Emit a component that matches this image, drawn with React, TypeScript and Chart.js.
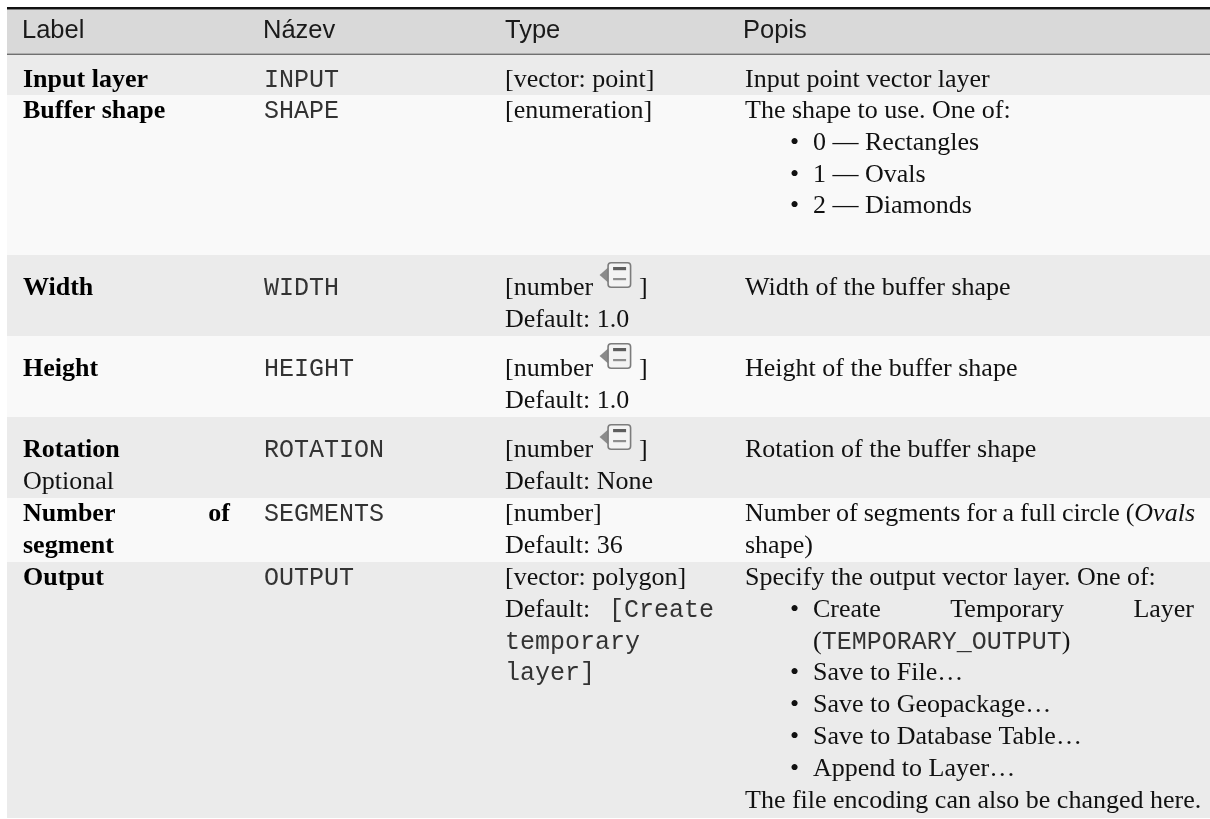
import React, { useEffect, useRef } from "react";
import { Chart, registerables } from "chart.js";

Chart.register(...registerables);

// ---------- data ----------
const columnHeaders = ["Label", "Název", "Type", "Popis"];
const labelLines = [["Input layer"], ["Buffer shape"], ["Width"], ["Height"], ["Rotation"], ["Number of", "segment"], ["Output"]];
const optionalFlags = [false, false, false, false, true, false, false];
const nameValues = ["INPUT", "SHAPE", "WIDTH", "HEIGHT", "ROTATION", "SEGMENTS", "OUTPUT"];
const typeValues = ["[vector: point]", "[enumeration]", "[number", "[number", "[number", "[number]", "[vector: polygon]"];
const dataDefinedFlags = [false, false, true, true, true, false, false];
const defaultLines = [[], [], ["Default: 1.0"], ["Default: 1.0"], ["Default: None"], ["Default: 36"], ["Default: `[Create`", "`temporary`", "`layer]`"]];
const descriptionLines = [
  ["Input point vector layer"],
  ["The shape to use. One of:"],
  ["Width of the buffer shape"],
  ["Height of the buffer shape"],
  ["Rotation of the buffer shape"],
  ["Number of segments for a full circle (*Ovals*", "shape)"],
  ["Specify the output vector layer. One of:"],
];
const shapeOptions = [["0 — Rectangles"], ["1 — Ovals"], ["2 — Diamonds"]];
const outputOptions = [["Create Temporary Layer", "(`TEMPORARY_OUTPUT`)"], ["Save to File…"], ["Save to Geopackage…"], ["Save to Database Table…"], ["Append to Layer…"]];
const descriptionLists = [null, shapeOptions, null, null, null, null, outputOptions];
const descriptionNotes = [null, null, null, null, null, null, "The file encoding can also be changed here."];

// ---------- layout / style ----------
const PAGE_W = 1210;
const PAGE_H = 819;
const TABLE_LEFT = 7;
const TABLE_RIGHT = 1210;
const TOP_RULE = [7, 9.5];
const HEADER = [9.5, 53.5];
const HEADER_RULE = [53.5, 55];
const HEADER_BASELINE = 38;
const ROW_TOPS = [55, 95, 255, 336, 417, 498, 562];
const TABLE_BOTTOM = 818;
const FIRST_BASELINE = [87, 118, 295, 376, 457, 521, 585];
const LINE = 31.8;
const COL_X = [23, 264, 505, 745];
const HEADER_X = [22, 263, 505, 743];
const COL_RIGHT = [230, 475, 714, 1195];
const BULLET_X = 790;
const LIST_X = 813;
const LIST_RIGHT = 1194;

type F = "r" | "b" | "i" | "m" | "h";
type Run = { t: string; f: F };
const FONTS: Record<F, string> = {
  r: "26px 'Liberation Serif'",
  b: "bold 26px 'Liberation Serif'",
  i: "italic 26px 'Liberation Serif'",
  m: "25px 'Liberation Mono'",
  h: "25.5px 'Liberation Sans'",
};
const COLORS: Record<F, string> = { r: "#111", b: "#000", i: "#111", m: "#333", h: "#1a1a1a" };

function parse(s: string, base: F): Run[] {
  const runs: Run[] = [];
  const re = /`([^`]*)`|\*([^*]*)\*/g;
  let last = 0;
  let m: RegExpExecArray | null;
  while ((m = re.exec(s))) {
    if (m.index > last) runs.push({ t: s.slice(last, m.index), f: base });
    if (m[1] !== undefined) runs.push({ t: m[1], f: "m" });
    else runs.push({ t: m[2], f: "i" });
    last = re.lastIndex;
  }
  if (last < s.length) runs.push({ t: s.slice(last), f: base });
  return runs;
}

function toWords(runs: Run[]): Run[][] {
  const out: Run[][] = [[]];
  for (const r of runs) {
    r.t.split(" ").forEach((p, i) => {
      if (i > 0) out.push([]);
      if (p) out[out.length - 1].push({ t: p, f: r.f });
    });
  }
  return out.filter((w) => w.length > 0);
}

function drawLine(ctx: CanvasRenderingContext2D, s: string, base: F, x: number, y: number, right?: number) {
  const ws = toWords(parse(s, base));
  const widths = ws.map((w) =>
    w.reduce((a, r) => {
      ctx.font = FONTS[r.f];
      return a + ctx.measureText(r.t).width;
    }, 0)
  );
  ctx.font = FONTS[base];
  let gap = ctx.measureText(" ").width;
  if (right !== undefined && ws.length > 1) {
    gap = (right - x - widths.reduce((a, b) => a + b, 0)) / (ws.length - 1);
  }
  let cx = x;
  ws.forEach((w) => {
    for (const r of w) {
      ctx.font = FONTS[r.f];
      ctx.fillStyle = COLORS[r.f];
      ctx.fillText(r.t, cx, y);
      cx += ctx.measureText(r.t).width;
    }
    cx += gap;
  });
  return cx - gap;
}

function drawPara(ctx: CanvasRenderingContext2D, lines: string[], base: F, x: number, y0: number, right: number, Y: (v: number) => number, X: (v: number) => number) {
  lines.forEach((l, k) => {
    drawLine(ctx, l, base, X(x), Y(y0 + k * LINE), k < lines.length - 1 ? X(right) : undefined);
  });
  return lines.length;
}

function drawIcon(ctx: CanvasRenderingContext2D, x: number, top: number) {
  // left-pointing triangle
  ctx.fillStyle = "#8a8a8a";
  ctx.beginPath();
  ctx.moveTo(x, top + 13);
  ctx.lineTo(x + 8.5, top + 5.5);
  ctx.lineTo(x + 8.5, top + 20.5);
  ctx.closePath();
  ctx.fill();
  // document body
  const dx = x + 8.5, dw = 22.5, dh = 26;
  ctx.fillStyle = "#f3f3f3";
  ctx.strokeStyle = "#7c7c7c";
  ctx.lineWidth = 1.6;
  ctx.beginPath();
  ctx.roundRect(dx, top + 0.8, dw, dh - 1.6, 3);
  ctx.fill();
  ctx.stroke();
  ctx.fillStyle = "#5e5e5e";
  ctx.fillRect(dx + 5, top + 5, dw - 9.5, 3.2);
  ctx.fillStyle = "#8e8e8e";
  ctx.fillRect(dx + 5, top + 16, dw - 9.5, 2.2);
}

const tablePlugin = {
  id: "paramTable",
  beforeDraw(chart: any) {
    const ctx: CanvasRenderingContext2D = chart.ctx;
    const X = (v: number) => chart.scales.x.getPixelForValue(v);
    const Y = (v: number) => chart.scales.y.getPixelForValue(v);
    const rect = (x0: number, y0: number, x1: number, y1: number, c: string) => {
      ctx.fillStyle = c;
      ctx.fillRect(X(x0), Y(y0), X(x1) - X(x0), Y(y1) - Y(y0));
    };
    ctx.save();
    ctx.textBaseline = "alphabetic";
    ctx.textAlign = "left";
    rect(0, 0, PAGE_W, PAGE_H, "#ffffff");

    // header
    rect(TABLE_LEFT, HEADER[0], TABLE_RIGHT, HEADER[1], "#d9d9d9");
    rect(TABLE_LEFT, TOP_RULE[0], TABLE_RIGHT, TOP_RULE[1], "#111111");
    rect(TABLE_LEFT, HEADER_RULE[0], TABLE_RIGHT, HEADER_RULE[1], "#707070");
    columnHeaders.forEach((h, c) => drawLine(ctx, h, "h", X(HEADER_X[c]), Y(HEADER_BASELINE)));

    // rows
    labelLines.forEach((lbl, i) => {
      const top = ROW_TOPS[i];
      const bottom = i + 1 < ROW_TOPS.length ? ROW_TOPS[i + 1] : TABLE_BOTTOM;
      rect(TABLE_LEFT, top, TABLE_RIGHT, bottom, i % 2 === 0 ? "#ebebeb" : "#f9f9f9");
      const b0 = FIRST_BASELINE[i];

      // column 1: label
      const n = drawPara(ctx, lbl, "b", COL_X[0], b0, COL_RIGHT[0], Y, X);
      if (optionalFlags[i]) drawLine(ctx, "Optional", "r", X(COL_X[0]), Y(b0 + n * LINE));

      // column 2: name
      drawLine(ctx, nameValues[i], "m", X(COL_X[1]), Y(b0));

      // column 3: type + default
      const endX = drawLine(ctx, typeValues[i], "r", X(COL_X[2]), Y(b0));
      if (dataDefinedFlags[i]) {
        ctx.font = FONTS.r;
        const sp = ctx.measureText(" ").width;
        const ix = endX + sp;
        drawIcon(ctx, ix, Y(b0 - 33));
        drawLine(ctx, "]", "r", ix + 31 + sp + 2, Y(b0));
      }
      drawPara(ctx, defaultLines[i], "r", COL_X[2], b0 + LINE, COL_RIGHT[2], Y, X);

      // column 4: description
      let k = drawPara(ctx, descriptionLines[i], "r", COL_X[3], b0, COL_RIGHT[3], Y, X);
      const list = descriptionLists[i];
      if (list) {
        list.forEach((item) => {
          drawLine(ctx, "•", "r", X(BULLET_X), Y(b0 + k * LINE));
          k += drawPara(ctx, item, "r", LIST_X, b0 + k * LINE, LIST_RIGHT, Y, X);
        });
      }
      const note = descriptionNotes[i];
      if (note) drawLine(ctx, note, "r", X(COL_X[3]), Y(b0 + k * LINE));
    });
    ctx.restore();
  },
};

export default function App() {
  const ref = useRef<HTMLCanvasElement>(null);
  useEffect(() => {
    if (!ref.current) return;
    const chart = new Chart(ref.current, {
      type: "scatter",
      data: { datasets: [{ data: [], pointRadius: 0 }] },
      options: {
        animation: false,
        responsive: false,
        devicePixelRatio: 1,
        events: [],
        layout: { padding: 0 },
        plugins: { legend: { display: false }, tooltip: { enabled: false } },
        scales: {
          x: { type: "linear", min: 0, max: PAGE_W, display: false },
          y: { type: "linear", min: 0, max: PAGE_H, reverse: true, display: false },
        },
      },
      plugins: [tablePlugin],
    });
    return () => chart.destroy();
  }, []);
  return (
    <div style={{ position: "absolute", left: 0, top: 0, width: PAGE_W, height: PAGE_H }}>
      <canvas ref={ref} width={PAGE_W} height={PAGE_H} style={{ display: "block" }} />
    </div>
  );
}
